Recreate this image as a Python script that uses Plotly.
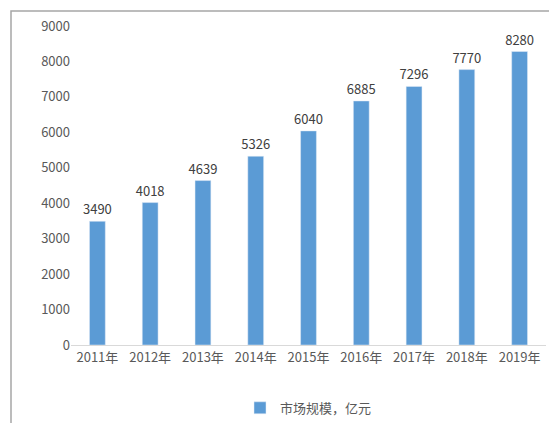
import plotly.graph_objects as go

years = ["2011年","2012年","2013年","2014年","2015年","2016年","2017年","2018年","2019年"]
values = [3490, 4018, 4639, 5326, 6040, 6885, 7296, 7770, 8280]
series_name = "市场规模，亿元"

W, H = 557, 423
L, R, T, B = 63, 19, 18, 86
pw, ph = W - L - R, H - T - B

fig = go.Figure(go.Bar(
    x=years, y=values, name=series_name, marker_color="#5B9BD5",
    width=0.3, text=[str(v) for v in values], textposition="outside",
    constraintext="none",
    textfont=dict(size=13, color="#404040"), cliponaxis=False, showlegend=True))

fig.update_layout(
    width=W, height=H, margin=dict(l=L, r=R, t=T, b=B, autoexpand=False),
    paper_bgcolor="white", plot_bgcolor="white",
    font=dict(family="Noto Sans CJK SC, Open Sans, sans-serif", size=13, color="#595959"),
    xaxis=dict(showline=True, linecolor="#D9D9D9", ticks="", tickfont=dict(size=13)),
    yaxis=dict(range=[0, 9000], dtick=1000, showgrid=False, zeroline=False,
               ticks="", tickfont=dict(size=13)),
    legend=dict(orientation="h", x=0.5, xanchor="center", y=-0.15, yanchor="top",
                font=dict(size=13, color="#595959")),
    shapes=[dict(type="rect", xref="paper", yref="paper",
                 x0=-(L - 3) / pw, x1=1 + (R - 3) / pw,
                 y0=-(B - 3) / ph, y1=1 + (T - 3) / ph,
                 line=dict(color="#A6A6A6", width=1.5))],
)
fig.write_html("out.html")
